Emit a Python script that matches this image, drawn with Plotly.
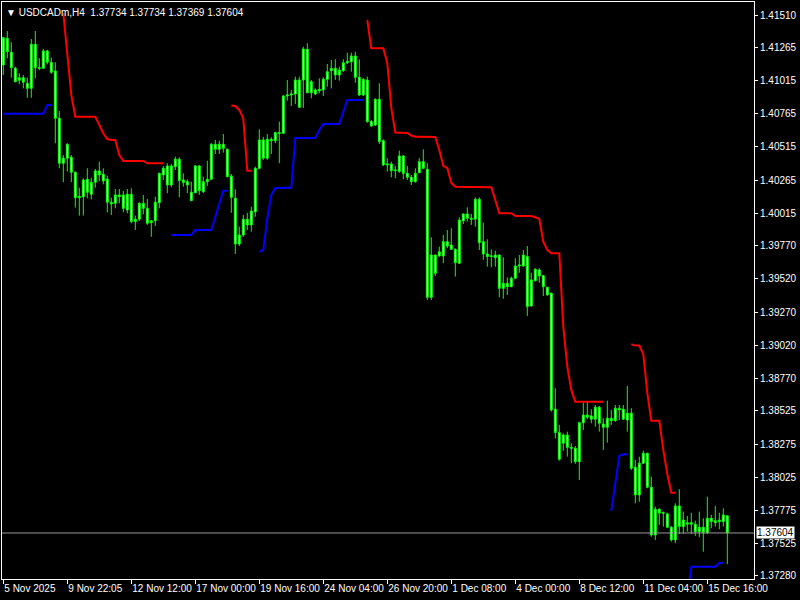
import plotly.graph_objects as go

# ---- data (USDCADm H4) ----
x_labels = ["5 Nov 2025", "9 Nov 22:05", "12 Nov 12:00", "17 Nov 00:00", "19 Nov 16:00",
            "24 Nov 04:00", "26 Nov 20:00", "1 Dec 08:00", "4 Dec 00:00", "8 Dec 12:00",
            "11 Dec 04:00", "15 Dec 16:00"]

y_ticks = [1.41510, 1.41265, 1.41015, 1.40765, 1.40515, 1.40265, 1.40015, 1.39770, 1.39520,
           1.39270, 1.39020, 1.38770, 1.38525, 1.38275, 1.38025, 1.37775, 1.37525, 1.37280]

opens = [
    1.41133, 1.41334, 1.41229, 1.41108, 1.41018, 1.41037, 1.40995, 1.40957, 1.41289, 1.41113,
    1.41108, 1.41239, 1.41153, 1.41088, 1.40731, 1.40392, 1.40430, 1.40437, 1.40324, 1.40132,
    1.40140, 1.40271, 1.40158, 1.40249, 1.40334, 1.40309, 1.40273, 1.40098, 1.40090, 1.40153,
    1.40153, 1.40040, 1.40158, 1.39952, 1.39970, 1.40090, 1.40052, 1.39944, 1.39959, 1.40095,
    1.40304, 1.40372, 1.40228, 1.40366, 1.40422, 1.40266, 1.40253, 1.40173, 1.40170, 1.40372,
    1.40178, 1.40253, 1.40271, 1.40535, 1.40497, 1.40535, 1.40497, 1.40296, 1.40128, 1.39783,
    1.39851, 1.39970, 1.39927, 1.40027, 1.40354, 1.40568, 1.40430, 1.40573, 1.40562, 1.40623,
    1.40618, 1.40899, 1.40907, 1.40914, 1.41020, 1.41020, 1.41251, 1.40924, 1.40945, 1.40939,
    1.40945, 1.41025, 1.41090, 1.41108, 1.41058, 1.41090, 1.41150, 1.41158, 1.41201, 1.41040,
    1.40907, 1.41020, 1.40706, 1.40681, 1.40874, 1.40562, 1.40379, 1.40387, 1.40336, 1.40329,
    1.40447, 1.40316, 1.40286, 1.40253, 1.40321, 1.40404, 1.40347, 1.39381, 1.39700, 1.39693,
    1.39693, 1.39801, 1.39776, 1.39743, 1.39638, 1.39959, 1.40010, 1.39977, 1.39970, 1.40120,
    1.39801, 1.39708, 1.39688, 1.39680, 1.39700, 1.39449, 1.39487, 1.39461, 1.39525, 1.39617,
    1.39617, 1.39688, 1.39316, 1.39507, 1.39587, 1.39544, 1.39457, 1.39412, 1.38537, 1.38361,
    1.38281, 1.38343, 1.38250, 1.38243, 1.38142, 1.38436, 1.38494, 1.38487, 1.38462, 1.38552,
    1.38426, 1.38401, 1.38469, 1.38451, 1.38545, 1.38537, 1.38456, 1.38507, 1.38100, 1.37891,
    1.38130, 1.38205, 1.37949, 1.37589, 1.37783, 1.37753, 1.37748, 1.37647, 1.37552, 1.37808,
    1.37652, 1.37682, 1.37670, 1.37670, 1.37614, 1.37647, 1.37607, 1.37715, 1.37682, 1.37690,
    1.37690, 1.37734]

highs = [
    1.41346, 1.41389, 1.41304, 1.41120, 1.41070, 1.41058, 1.41037, 1.41329, 1.41389, 1.41184,
    1.41254, 1.41248, 1.41188, 1.41153, 1.40786, 1.40454, 1.40543, 1.40454, 1.40329, 1.40208,
    1.40279, 1.40354, 1.40283, 1.40349, 1.40404, 1.40354, 1.40298, 1.40132, 1.40198, 1.40198,
    1.40183, 1.40198, 1.40203, 1.39997, 1.40098, 1.40153, 1.40123, 1.39964, 1.40140, 1.40321,
    1.40372, 1.40392, 1.40387, 1.40442, 1.40437, 1.40316, 1.40271, 1.40253, 1.40379, 1.40379,
    1.40291, 1.40411, 1.40543, 1.40568, 1.40562, 1.40613, 1.40505, 1.40311, 1.40196, 1.39914,
    1.40002, 1.40019, 1.40065, 1.40366, 1.40648, 1.40592, 1.40613, 1.40588, 1.40630, 1.40706,
    1.40907, 1.41020, 1.40945, 1.41045, 1.41045, 1.41271, 1.41297, 1.41020, 1.40957, 1.41033,
    1.41040, 1.41140, 1.41171, 1.41176, 1.41120, 1.41176, 1.41226, 1.41226, 1.41233, 1.41176,
    1.41033, 1.41045, 1.40718, 1.40882, 1.40995, 1.40573, 1.40430, 1.40404, 1.40372, 1.40487,
    1.40454, 1.40372, 1.40304, 1.40354, 1.40430, 1.40497, 1.40392, 1.39834, 1.39705, 1.39763,
    1.39851, 1.39889, 1.39902, 1.39751, 1.39985, 1.40015, 1.40060, 1.40010, 1.40135, 1.40135,
    1.39944, 1.39819, 1.39743, 1.39733, 1.39705, 1.39683, 1.39532, 1.39537, 1.39676, 1.39700,
    1.39738, 1.39768, 1.39567, 1.39600, 1.39600, 1.39550, 1.39461, 1.39416, 1.38695, 1.38419,
    1.38356, 1.38368, 1.38281, 1.38260, 1.38443, 1.38587, 1.38594, 1.38537, 1.38569, 1.38562,
    1.38469, 1.38602, 1.38532, 1.38569, 1.38569, 1.38569, 1.38713, 1.38545, 1.38155, 1.38180,
    1.38225, 1.38210, 1.38029, 1.37803, 1.37790, 1.37765, 1.37757, 1.37657, 1.37828, 1.37934,
    1.37765, 1.37732, 1.37757, 1.37697, 1.37765, 1.37715, 1.37878, 1.37740, 1.37808, 1.37757,
    1.37790, 1.37734]

lows = [
    1.41058, 1.41184, 1.41037, 1.41003, 1.40988, 1.40957, 1.40886, 1.40886, 1.41033, 1.41095,
    1.41103, 1.41138, 1.41067, 1.40543, 1.40354, 1.40249, 1.40329, 1.40249, 1.40057, 1.39997,
    1.39997, 1.40128, 1.40120, 1.40208, 1.40258, 1.40233, 1.40022, 1.40002, 1.40052, 1.40090,
    1.40022, 1.40015, 1.39939, 1.39889, 1.39957, 1.40007, 1.39927, 1.39838, 1.39919, 1.40052,
    1.40266, 1.40166, 1.40211, 1.40341, 1.40135, 1.40215, 1.40166, 1.40110, 1.40166, 1.40153,
    1.40166, 1.40221, 1.40266, 1.40462, 1.40462, 1.40472, 1.40286, 1.40019, 1.39708, 1.39768,
    1.39838, 1.39889, 1.39876, 1.39989, 1.40347, 1.40417, 1.40417, 1.40462, 1.40543, 1.40392,
    1.40613, 1.40864, 1.40824, 1.40839, 1.40809, 1.40809, 1.40920, 1.40882, 1.40907, 1.40920,
    1.40899, 1.40969, 1.40957, 1.41020, 1.41015, 1.41082, 1.41140, 1.41082, 1.40999, 1.40899,
    1.40899, 1.40698, 1.40668, 1.40673, 1.40537, 1.40372, 1.40329, 1.40286, 1.40279, 1.40321,
    1.40271, 1.40266, 1.40228, 1.40246, 1.40316, 1.40347, 1.39361, 1.39361, 1.39542, 1.39688,
    1.39638, 1.39751, 1.39738, 1.39537, 1.39632, 1.39934, 1.39952, 1.39927, 1.39914, 1.39738,
    1.39663, 1.39612, 1.39608, 1.39612, 1.39381, 1.39371, 1.39399, 1.39457, 1.39517, 1.39567,
    1.39612, 1.39241, 1.39311, 1.39499, 1.39492, 1.39391, 1.39395, 1.38519, 1.38318, 1.38149,
    1.38225, 1.38180, 1.38130, 1.38125, 1.38004, 1.38381, 1.38462, 1.38431, 1.38406, 1.38368,
    1.38230, 1.38285, 1.38419, 1.38443, 1.38456, 1.38456, 1.38368, 1.38079, 1.37828, 1.37840,
    1.38125, 1.37941, 1.37576, 1.37552, 1.37665, 1.37652, 1.37640, 1.37539, 1.37527, 1.37597,
    1.37597, 1.37614, 1.37597, 1.37582, 1.37572, 1.37463, 1.37597, 1.37640, 1.37652, 1.37632,
    1.37652, 1.37369]

closes = [
    1.41339, 1.41233, 1.41113, 1.41007, 1.41037, 1.41003, 1.40957, 1.41289, 1.41113, 1.41108,
    1.41239, 1.41153, 1.41078, 1.40731, 1.40392, 1.40430, 1.40535, 1.40324, 1.40132, 1.40143,
    1.40266, 1.40173, 1.40249, 1.40334, 1.40304, 1.40258, 1.40098, 1.40085, 1.40153, 1.40140,
    1.40052, 1.40158, 1.39952, 1.39970, 1.40090, 1.40052, 1.39939, 1.39959, 1.40098, 1.40316,
    1.40354, 1.40228, 1.40372, 1.40422, 1.40261, 1.40246, 1.40228, 1.40110, 1.40372, 1.40185,
    1.40253, 1.40271, 1.40535, 1.40497, 1.40535, 1.40505, 1.40291, 1.40135, 1.39783, 1.39851,
    1.39970, 1.39927, 1.40032, 1.40354, 1.40568, 1.40430, 1.40573, 1.40562, 1.40623, 1.40618,
    1.40899, 1.40907, 1.40914, 1.41020, 1.40814, 1.41254, 1.40924, 1.41007, 1.40914, 1.40950,
    1.41025, 1.41082, 1.41108, 1.41058, 1.41095, 1.41150, 1.41161, 1.41201, 1.41040, 1.40907,
    1.41025, 1.40706, 1.40673, 1.40874, 1.40555, 1.40379, 1.40387, 1.40336, 1.40341, 1.40447,
    1.40316, 1.40286, 1.40253, 1.40316, 1.40404, 1.40354, 1.39381, 1.39700, 1.39562, 1.39725,
    1.39801, 1.39768, 1.39743, 1.39642, 1.39964, 1.40010, 1.39977, 1.39970, 1.40120, 1.39793,
    1.39708, 1.39688, 1.39693, 1.39700, 1.39449, 1.39487, 1.39461, 1.39525, 1.39617, 1.39625,
    1.39700, 1.39311, 1.39512, 1.39593, 1.39542, 1.39461, 1.39399, 1.38532, 1.38361, 1.38160,
    1.38343, 1.38250, 1.38243, 1.38142, 1.38436, 1.38494, 1.38477, 1.38462, 1.38552, 1.38431,
    1.38401, 1.38469, 1.38451, 1.38545, 1.38532, 1.38462, 1.38507, 1.38092, 1.37891, 1.38130,
    1.38205, 1.37949, 1.37589, 1.37783, 1.37753, 1.37757, 1.37647, 1.37552, 1.37808, 1.37652,
    1.37702, 1.37670, 1.37682, 1.37614, 1.37647, 1.37607, 1.37715, 1.37690, 1.37697, 1.37702,
    1.37740, 1.37604]

N = None
supertrend_down = [
    N, N, N, N, N, N, N, N, N, N,
    N, N, N, N, N, 1.41525, 1.41186, 1.40907, 1.40743, 1.40743,
    1.40743, 1.40743, 1.40743, 1.40743, 1.40681, 1.40618, 1.40575, 1.40568, 1.40568, 1.40454,
    1.40409, 1.40409, 1.40409, 1.40409, 1.40409, 1.40409, 1.40392, 1.40392, 1.40392, 1.40392,
    1.40392, N, N, N, N, N, N, N, N, N,
    N, N, N, N, N, N, N, 1.40828, 1.40824, 1.40794,
    1.40730, 1.40336, 1.40336, N, N, N, N, N, N, N,
    N, N, N, N, N, N, N, N, N, N,
    N, N, N, N, N, N, N, N, N, N,
    N, 1.41472, 1.41259, 1.41259, 1.41259, 1.41259, 1.41148, 1.40809, 1.40623, 1.40623,
    1.40623, 1.40620, 1.40601, 1.40592, 1.40592, 1.40592, 1.40592, 1.40592, 1.40590, 1.40492,
    1.40372, 1.40356, 1.40243, 1.40215, 1.40215, 1.40215, 1.40211, 1.40211, 1.40211, 1.40211,
    1.40211, 1.40211, 1.40211, 1.40115, 1.40015, 1.40015, 1.40015, 1.40015, 1.39994, 1.39994,
    1.39994, 1.39994, 1.39994, 1.39985, 1.39972, 1.39801, 1.39738, 1.39713, 1.39713, 1.39713,
    1.39160, 1.38858, 1.38683, 1.38594, 1.38594, 1.38594, 1.38594, 1.38594, 1.38594, 1.38594,
    1.38594, N, N, N, N, N, N, 1.39027, 1.39017, 1.39017,
    1.38954, 1.38660, 1.38451, 1.38451, 1.38451, 1.38230, 1.38049, 1.37908, 1.37908, N,
    N, N, N, N, N, N, N, N, N, N,
    N, N]

supertrend_up = [
    1.40766, 1.40766, 1.40766, 1.40766, 1.40766, 1.40766, 1.40766, 1.40766, 1.40766, 1.40766,
    1.40766, 1.40831, 1.40831, N, N, N, N, N, N, N,
    N, N, N, N, N, N, N, N, N, N,
    N, N, N, N, N, N, N, N, N, N,
    N, N, 1.39851, 1.39851, 1.39851, 1.39851, 1.39851, 1.39851, 1.39889, 1.39889,
    1.39889, 1.39889, 1.39889, 1.39987, 1.40085, 1.40185, 1.40185, N, N, N,
    N, N, N, N, 1.39725, 1.39738, 1.39979, 1.40153, 1.40206, 1.40208,
    1.40208, 1.40208, 1.40208, 1.40582, 1.40582, 1.40582, 1.40582, 1.40582, 1.40582, 1.40643,
    1.40688, 1.40688, 1.40688, 1.40688, 1.40688, 1.40779, 1.40869, 1.40869, 1.40869, 1.40869,
    1.40869, N, N, N, N, N, N, N, N, N,
    N, N, N, N, N, N, N, N, N, N,
    N, N, N, N, N, N, N, N, N, N,
    N, N, N, N, N, N, N, N, N, N,
    N, N, N, N, N, N, N, N, N, N,
    N, N, N, N, N, N, N, N, N, N,
    N, N, 1.37770, 1.37981, 1.38185, 1.38198, 1.38198, N, N, N,
    N, N, N, N, N, N, N, N, N, N,
    N, 1.37099, 1.37350, 1.37350, 1.37350, 1.37350, 1.37350, 1.37350, 1.37350, 1.37378,
    1.37380, N]

symbol = "USDCADm,H4"
last_price = closes[-1]

# ---- figure ----
idx = list(range(len(closes)))
tick_pos = idx[::16][:len(x_labels)]

LIME = "#00ff00"
FONT = "Liberation Sans, Arial, sans-serif"

fig = go.Figure()
fig.add_trace(go.Candlestick(
    x=idx, open=opens, high=highs, low=lows, close=closes,
    increasing=dict(line=dict(color=LIME, width=1), fillcolor="#ffffff"),
    decreasing=dict(line=dict(color=LIME, width=1), fillcolor="#ffffff"),
    whiskerwidth=0, hoverinfo="skip", showlegend=False))
fig.add_trace(go.Scatter(x=idx, y=supertrend_down, mode="lines",
                         line=dict(color="#ff0000", width=2), hoverinfo="skip",
                         showlegend=False))
fig.add_trace(go.Scatter(x=idx, y=supertrend_up, mode="lines",
                         line=dict(color="#0000ff", width=2), hoverinfo="skip",
                         showlegend=False))

fig.add_shape(type="line", xref="paper", x0=0, x1=1, yref="y",
              y0=last_price, y1=last_price, line=dict(color="#9a9a9a", width=1))

fig.add_annotation(xref="paper", x=1, xanchor="left", xshift=2,
                   yref="y", y=last_price, yanchor="middle",
                   text=f"{last_price:.5f}", showarrow=False,
                   bgcolor="#ffffff", borderpad=0,
                   font=dict(color="#000000", size=10, family=FONT))

title_txt = ("\u25bc\u00a0" + symbol + "\u00a0\u00a0" +
             f"{opens[-1]:.5f} {highs[-1]:.5f} {lows[-1]:.5f} {closes[-1]:.5f}")
fig.add_annotation(xref="paper", x=0, xanchor="left", xshift=2,
                   yref="paper", y=1, yanchor="top", yshift=-3,
                   text=title_txt, showarrow=False,
                   font=dict(color="#ffffff", size=10, family=FONT))

fig.update_layout(
    width=800, height=600,
    margin=dict(l=2, r=46, t=2, b=21, autoexpand=False),
    paper_bgcolor="#000000", plot_bgcolor="#000000",
    showlegend=False,
    xaxis=dict(range=[-0.325, 187.675], tickvals=tick_pos, ticktext=x_labels,
               ticks="outside", ticklen=4, tickcolor="#ffffff", tickangle=0,
               ticklabelposition="outside right", automargin=False,
               tickfont=dict(color="#ffffff", size=10, family=FONT),
               showgrid=False, zeroline=False, showline=True, linecolor="#ffffff",
               linewidth=1, mirror=True, rangeslider=dict(visible=False)),
    yaxis=dict(side="right", range=[1.37257, 1.41608], tickvals=y_ticks,
               ticktext=[f"{v:.5f}" for v in y_ticks], automargin=False,
               ticks="outside", ticklen=3, tickcolor="#ffffff",
               tickfont=dict(color="#ffffff", size=10, family=FONT),
               showgrid=False, zeroline=False, showline=True, linecolor="#ffffff",
               linewidth=1, mirror=True),
)

fig.write_html("out.html", config={"displayModeBar": False},
               post_script="document.body.style.margin='0';"
                           "document.body.style.background='#000000';")
